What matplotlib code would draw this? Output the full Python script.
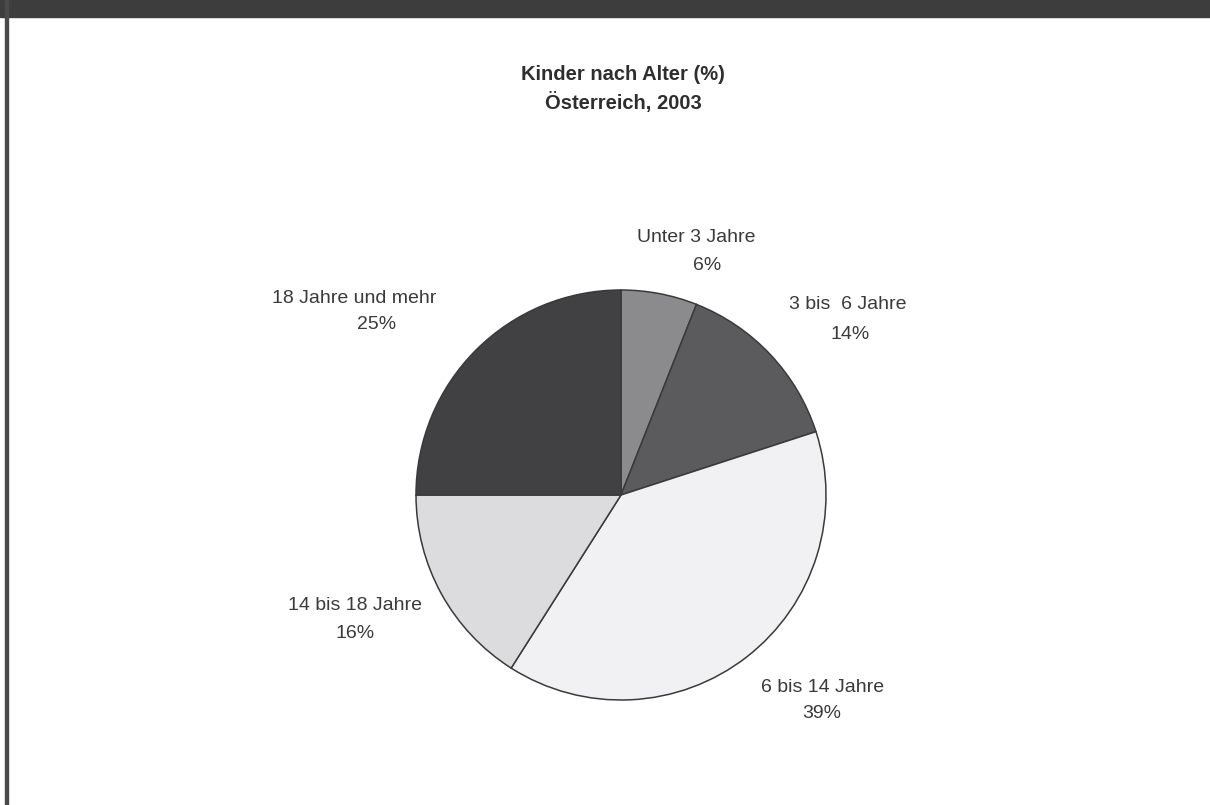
import matplotlib
matplotlib.use("Agg")
import matplotlib.pyplot as plt
from matplotlib.patches import Rectangle

# data
categories = ["Unter 3 Jahre", "3 bis  6 Jahre", "6 bis 14 Jahre", "14 bis 18 Jahre", "18 Jahre und mehr"]
shares = [6, 14, 39, 16, 25]
colors = ["#8b8b8d", "#5b5b5d", "#f1f1f3", "#dcdcde", "#414143"]

# label positions in pixel coords (x, y from top): name line, then percent line
name_pos = [(696, 237), (848, 304), (823, 687), (355, 606), (354, 298)]
pct_pos = [(707, 265), (850, 334), (822, 713), (355, 633), (377, 324)]

W, H = 1210, 805
FONT = ["Liberation Sans", "DejaVu Sans"]

fig = plt.figure(figsize=(W / 100, H / 100), dpi=100)
ax = fig.add_axes([0, 0, 1, 1])

ax.pie(
    shares,
    colors=colors,
    startangle=90,
    counterclock=False,
    center=(621, H - 495),
    radius=205,
    wedgeprops=dict(edgecolor="#3a3a3a", linewidth=1.1),
    frame=True,
)
ax.set_xlim(0, W)
ax.set_ylim(0, H)
ax.axis("off")

for (nx, ny), (px, py), cat, val in zip(name_pos, pct_pos, categories, shares):
    ax.text(nx, H - ny, cat, ha="center", va="center", fontsize=14,
            color="#3a3a3a", family=FONT)
    ax.text(px, H - py, f"{val}%", ha="center", va="center", fontsize=14,
            color="#3a3a3a", family=FONT)

fig.text(623 / W, 1 - 75 / H, "Kinder nach Alter (%)", ha="center", va="center",
         fontsize=14.5, fontweight="bold", color="#2e2e2e", family=FONT)
fig.text(623 / W, 1 - 103 / H, "Österreich, 2003", ha="center", va="center",
         fontsize=14.5, fontweight="bold", color="#2e2e2e", family=FONT)

# frame: dark band on top, thin line on the left
fig.patches.append(Rectangle((0, 1 - 17 / H), 1, 17 / H, transform=fig.transFigure,
                             color="#3d3d3d", zorder=10))
fig.patches.append(Rectangle((5 / W, 0), 2.5 / W, 1, transform=fig.transFigure,
                             color="#4a4a4a", zorder=10))

fig.savefig("out.png", dpi=100, facecolor="white")
